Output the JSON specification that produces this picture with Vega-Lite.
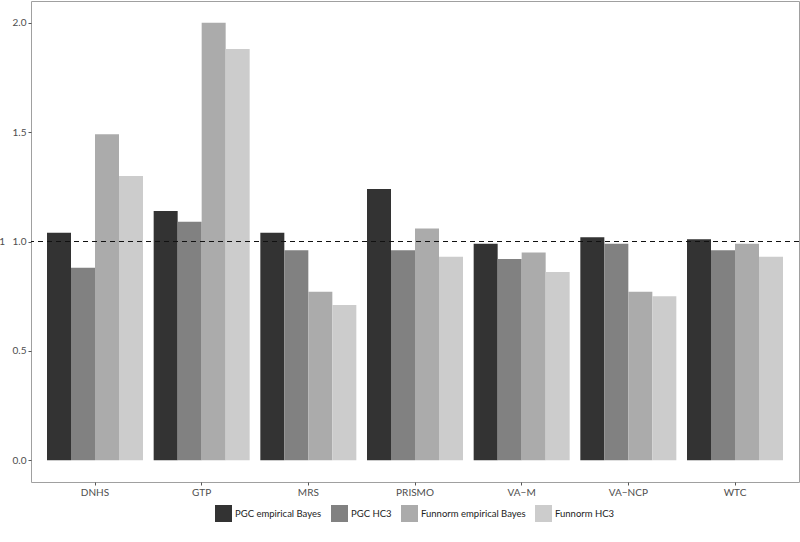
{
  "$schema": "https://vega.github.io/schema/vega-lite/v6.json",
  "width": 768,
  "height": 481,
  "autosize": {"type": "none"},
  "padding": {"left": 31, "top": 1, "right": 1, "bottom": 60},
  "background": "white",
  "config": {
    "font": "Lato",
    "view": {"stroke": "#a0a0a0", "strokeWidth": 1},
    "axis": {
      "labelFont": "Lato",
      "labelFontSize": 10,
      "labelColor": "#4d4d4d",
      "tickColor": "#555555",
      "tickSize": 3,
      "domain": false,
      "grid": false,
      "title": null
    },
    "legend": {
      "labelFont": "Lato",
      "labelFontSize": 9.5,
      "labelColor": "#222222"
    }
  },
  "data": {
    "values": [
      {"site": "DNHS", "method": "PGC empirical Bayes", "value": 1.04},
      {"site": "DNHS", "method": "PGC HC3", "value": 0.88},
      {"site": "DNHS", "method": "Funnorm empirical Bayes", "value": 1.49},
      {"site": "DNHS", "method": "Funnorm HC3", "value": 1.30},
      {"site": "GTP", "method": "PGC empirical Bayes", "value": 1.14},
      {"site": "GTP", "method": "PGC HC3", "value": 1.09},
      {"site": "GTP", "method": "Funnorm empirical Bayes", "value": 2.00},
      {"site": "GTP", "method": "Funnorm HC3", "value": 1.88},
      {"site": "MRS", "method": "PGC empirical Bayes", "value": 1.04},
      {"site": "MRS", "method": "PGC HC3", "value": 0.96},
      {"site": "MRS", "method": "Funnorm empirical Bayes", "value": 0.77},
      {"site": "MRS", "method": "Funnorm HC3", "value": 0.71},
      {"site": "PRISMO", "method": "PGC empirical Bayes", "value": 1.24},
      {"site": "PRISMO", "method": "PGC HC3", "value": 0.96},
      {"site": "PRISMO", "method": "Funnorm empirical Bayes", "value": 1.06},
      {"site": "PRISMO", "method": "Funnorm HC3", "value": 0.93},
      {"site": "VA−M", "method": "PGC empirical Bayes", "value": 0.99},
      {"site": "VA−M", "method": "PGC HC3", "value": 0.92},
      {"site": "VA−M", "method": "Funnorm empirical Bayes", "value": 0.95},
      {"site": "VA−M", "method": "Funnorm HC3", "value": 0.86},
      {"site": "VA−NCP", "method": "PGC empirical Bayes", "value": 1.02},
      {"site": "VA−NCP", "method": "PGC HC3", "value": 0.99},
      {"site": "VA−NCP", "method": "Funnorm empirical Bayes", "value": 0.77},
      {"site": "VA−NCP", "method": "Funnorm HC3", "value": 0.75},
      {"site": "WTC", "method": "PGC empirical Bayes", "value": 1.01},
      {"site": "WTC", "method": "PGC HC3", "value": 0.96},
      {"site": "WTC", "method": "Funnorm empirical Bayes", "value": 0.99},
      {"site": "WTC", "method": "Funnorm HC3", "value": 0.93}
    ]
  },
  "layer": [
    {
      "mark": {"type": "bar"},
      "encoding": {
        "x": {
          "field": "site",
          "type": "nominal",
          "sort": ["DNHS", "GTP", "MRS", "PRISMO", "VA−M", "VA−NCP", "WTC"],
          "scale": {"paddingInner": 0.1, "paddingOuter": 0.15},
          "axis": {"labelAngle": 0, "labelPadding": 2, "ticks": true}
        },
        "xOffset": {
          "field": "method",
          "type": "nominal",
          "sort": ["PGC empirical Bayes", "PGC HC3", "Funnorm empirical Bayes", "Funnorm HC3"],
          "scale": {"paddingInner": 0, "paddingOuter": 0}
        },
        "y": {
          "field": "value",
          "type": "quantitative",
          "scale": {"domain": [-0.1, 2.1], "nice": false, "zero": false},
          "axis": {
            "values": [0, 0.5, 1, 1.5, 2],
            "format": ".1f",
            "labelPadding": 2,
            "labelOverlap": false,
            "labelExpr": "datum.value == 1 ? '1\u2002 1.0' : datum.label"
          }
        },
        "y2": {"datum": 0},
        "color": {
          "field": "method",
          "type": "nominal",
          "sort": ["PGC empirical Bayes", "PGC HC3", "Funnorm empirical Bayes", "Funnorm HC3"],
          "scale": {
            "domain": ["PGC empirical Bayes", "PGC HC3", "Funnorm empirical Bayes", "Funnorm HC3"],
            "range": ["#333333", "#818181", "#ababab", "#cccccc"]
          },
          "legend": {
            "title": null,
            "orient": "none",
            "direction": "horizontal",
            "legendX": 184,
            "legendY": 504,
            "symbolType": "square",
            "symbolSize": 289,
            "symbolStrokeWidth": 0,
            "symbolOpacity": 1,
            "labelOffset": 3,
            "columnPadding": 9
          }
        }
      }
    },
    {
      "data": {"values": [{"ref": 1}]},
      "mark": {"type": "rule", "color": "#111111", "strokeDash": [5, 4], "strokeWidth": 1.2},
      "encoding": {
        "y": {"field": "ref", "type": "quantitative"}
      }
    }
  ]
}
